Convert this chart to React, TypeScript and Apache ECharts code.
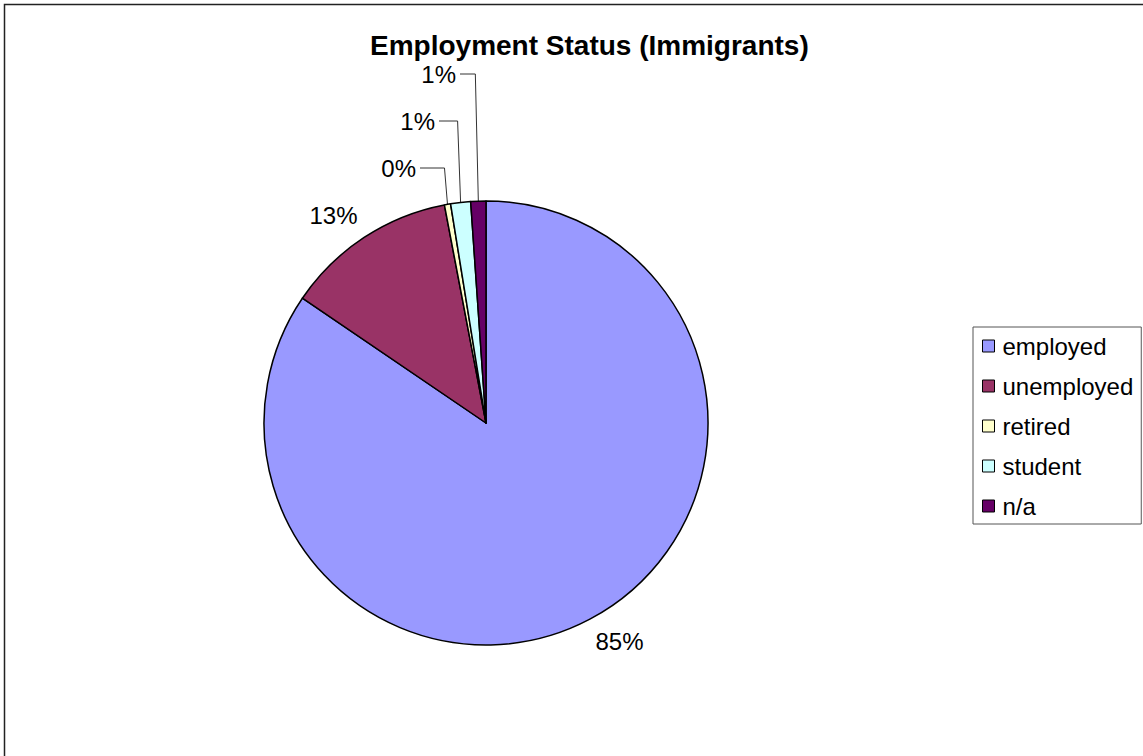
import React, { useEffect, useRef } from "react";
import * as echarts from "echarts";

const categories = ["employed", "unemployed", "retired", "student", "n/a"];
const values = [84.5, 12.5, 0.45, 1.45, 1.1];
const colors = ["#9999FF", "#993366", "#FFFFCC", "#CCFFFF", "#660066"];

const FONT = 'Arial, "Liberation Sans", sans-serif';
const CX = 486;
const CY = 423;
const R = 222;
// layout of the dragged small labels (retired, student, n/a): right edge x and middle y
const smallLabelRight = [416, 435, 456];
const smallLabelY = [168, 121, 74];

function midAngle(i: number): number {
  const total = values.reduce((a, b) => a + b, 0);
  let start = 0;
  for (let k = 0; k < i; k++) start += values[k];
  const mid = (start + values[i] / 2) / total;
  return mid * Math.PI * 2;
}

export default function App() {
  const ref = useRef<HTMLDivElement>(null);
  useEffect(() => {
    if (!ref.current) return;
    const chart = echarts.init(ref.current, null, { renderer: "svg" });
    const data = categories.map((name, i) => ({
      name,
      value: values[i],
      itemStyle: { color: colors[i] },
      labelLine: { show: values[i] < 5 },
    }));
    chart.setOption({
      animation: false,
      backgroundColor: "#fff",
      title: {
        text: "Employment Status (Immigrants)",
        left: 370,
        top: 31,
        padding: 0,
        textStyle: { fontSize: 28, fontWeight: "bold", color: "#000", fontFamily: FONT, lineHeight: 28 },
      },
      legend: {
        orient: "vertical",
        left: 973,
        top: 327,
        padding: [7, 8, 6, 9],
        itemWidth: 12,
        itemHeight: 12,
        itemGap: 16,
        borderColor: "#555",
        borderWidth: 1,
        icon: "rect",
        itemStyle: { borderColor: "#000", borderWidth: 1 },
        textStyle: { fontSize: 24, lineHeight: 24, color: "#000", fontFamily: FONT, padding: [0, 0, 0, 3] },
        data: categories,
      },
      graphic: [
        {
          type: "rect",
          shape: { x: 4.5, y: 4.5, width: 1300, height: 900 },
          style: { fill: "none", stroke: "#222", lineWidth: 1.5 },
          silent: true,
        },
      ],
      series: [
        {
          type: "pie",
          center: [CX, CY],
          radius: R,
          startAngle: 90,
          clockwise: true,
          percentPrecision: 0,
          avoidLabelOverlap: false,
          itemStyle: { borderColor: "#000", borderWidth: 1.5 },
          label: {
            show: true,
            position: "outside",
            formatter: "{d}%",
            fontSize: 24,
            color: "#000",
            fontFamily: FONT,
          },
          labelLine: { show: true, lineStyle: { color: "#333", width: 1 } },
          labelLayout: (params: any) => {
            const i = params.dataIndex;
            const a = midAngle(i);
            const s = Math.sin(a);
            const c = Math.cos(a);
            if (values[i] >= 5) {
              const d = R + 12;
              return {
                x: CX + d * s,
                y: CY - d * c,
                align: s >= 0 ? "left" : "right",
                verticalAlign: c >= 0 ? "bottom" : "top",
                hideOverlap: false,
              };
            }
            const k = i - 2;
            const ax = CX + R * s;
            const ay = CY - R * c;
            const lx = smallLabelRight[k];
            const ly = smallLabelY[k];
            return {
              x: lx,
              y: ly,
              align: "right",
              verticalAlign: "middle",
              hideOverlap: false,
              labelLinePoints: [
                [ax, ay],
                [ax - 3, ly],
                [lx + 4, ly],
              ],
            };
          },
          data,
        },
      ],
    });
    return () => chart.dispose();
  }, []);
  return (
    <div
      ref={ref}
      style={{ position: "absolute", left: 0, top: 0, width: 1143, height: 756, background: "#fff" }}
    />
  );
}
